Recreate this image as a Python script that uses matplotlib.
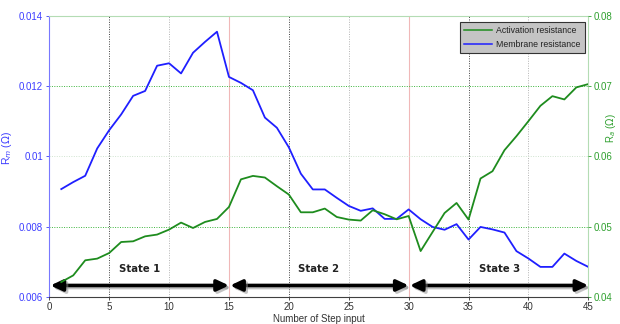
import matplotlib
matplotlib.use("Agg")
import matplotlib.pyplot as plt
import matplotlib.patheffects as pe
from matplotlib.lines import Line2D

plt.rcParams['font.family'] = ['Liberation Sans', 'DejaVu Sans']

steps = list(range(1, 46))

membrane = [0.00907, 0.00927, 0.00945, 0.01023, 0.01075, 0.0112, 0.01173, 0.01187,
            0.01259, 0.01266, 0.01237, 0.01296, 0.01327, 0.01356, 0.01227, 0.0121,
            0.01189, 0.01111, 0.01082, 0.01026, 0.00951, 0.00906, 0.00906, 0.00882,
            0.00859, 0.00845, 0.00852, 0.00822, 0.00822, 0.00849, 0.00821, 0.00799,
            0.00791, 0.00807, 0.00763, 0.00799, 0.00792, 0.00783, 0.0073, 0.00709,
            0.00685, 0.00685, 0.00723, 0.00702, 0.00685]

activation = [0.04209, 0.04304, 0.04519, 0.04543, 0.04623, 0.0478, 0.0479, 0.04861,
              0.04886, 0.04957, 0.05057, 0.0498, 0.05066, 0.05109, 0.0528, 0.05674,
              0.05723, 0.057, 0.05576, 0.05457, 0.05204, 0.05204, 0.05257, 0.05137,
              0.051, 0.05086, 0.05233, 0.05176, 0.05104, 0.05151, 0.04651, 0.04923,
              0.05194, 0.05337, 0.051, 0.05686, 0.0579, 0.0609, 0.0629, 0.06504,
              0.06723, 0.06861, 0.06814, 0.06986, 0.07033]

x_ticks = [0, 5, 10, 15, 20, 25, 30, 35, 40, 45]
rm_ticks = [0.006, 0.008, 0.01, 0.012, 0.014]
ra_ticks = [0.04, 0.05, 0.06, 0.07, 0.08]
rm_tick_labels = ['0.006', '0.008', '0.01', '0.012', '0.014']
ra_tick_labels = ['0.04', '0.05', '0.06', '0.07', '0.08']

state_names = ['State 1', 'State 2', 'State 3']
state_bounds = [(0, 15), (15, 30), (30, 45)]
state_label_x = [7.56, 22.5, 37.56]

BLUE = '#1f1fff'
GREEN = '#1e8c1e'
BLUE_TXT = '#3c3cff'
GREEN_TXT = '#2fa02f'

fig = plt.figure(figsize=(6.2, 3.24), dpi=100)
ax = fig.add_axes([0.0795, 0.0843, 0.8694, 0.8654])
ax2 = ax.twinx()

ax.set_xlim(0, 45)
ax.set_ylim(0.006, 0.014)
ax2.set_ylim(0.04, 0.08)

# vertical reference lines
for xv in (5, 20, 35):
    ax.axvline(xv, color='#404040', lw=0.7, ls=(0, (1, 1.5)), zorder=0)
for xv in (10, 25, 40):
    ax.axvline(xv, color='#b4b4b4', lw=0.7, ls=(0, (1, 1.5)), zorder=0)
for xv in (15, 30):
    ax.axvline(xv, color='#f0b8b8', lw=0.8, zorder=0)

# horizontal reference lines
for yv in (0.008, 0.012):
    ax.axhline(yv, color='#3cb43c', lw=0.7, ls=(0, (1, 1.5)), zorder=0)
ax.axhline(0.01, color='#cfe3cf', lw=0.7, ls=(0, (1, 1.5)), zorder=0)

ax.plot(steps, membrane, color=BLUE, lw=1.3, zorder=3)
ax2.plot(steps, activation, color=GREEN, lw=1.3, zorder=3)

ax.set_xticks(x_ticks)
ax.set_yticks(rm_ticks)
ax.set_yticklabels(rm_tick_labels)
ax2.set_yticks(ra_ticks)
ax2.set_yticklabels(ra_tick_labels)

ax.tick_params(axis='x', labelsize=7, colors='#333333', length=2.5, width=0.6, pad=1.5)
ax.tick_params(axis='y', labelsize=7, colors=BLUE_TXT, length=2.5, width=0.6, pad=2)
ax2.tick_params(axis='y', labelsize=7, colors=GREEN_TXT, length=2.5, width=0.6, pad=1.5)

for sp in ax2.spines.values():
    sp.set_visible(False)
ax.spines['left'].set_color('#7878ff')
ax.spines['bottom'].set_color('#404040')
ax.spines['top'].set_color('#b4dcb4')
ax.spines['right'].set_color('#b4dcb4')
for sp in ax.spines.values():
    sp.set_linewidth(0.8)

ax.set_xlabel('Number of Step input', fontsize=7, color='#333333', labelpad=1)
ax.set_ylabel(r'R$_{m}$ ($\Omega$)', fontsize=7.5, color=BLUE_TXT)
ax.yaxis.set_label_coords(-0.066, 0.53)
ax2.set_ylabel(r'R$_{a}$ ($\Omega$)', fontsize=7, color=GREEN_TXT)
ax2.yaxis.set_label_coords(1.029, 0.6)

# state arrows
arrow_y = 0.00632
shadow = [pe.SimpleLineShadow(offset=(1.5, -1.5), shadow_color='#888888', alpha=0.5),
          pe.Normal()]
for (x0, x1), name, lx in zip(state_bounds, state_names, state_label_x):
    ax.annotate('', xy=(x1, arrow_y), xytext=(x0 + 0.1, arrow_y),
                arrowprops=dict(arrowstyle='<|-|>,head_length=0.7,head_width=0.33',
                                color='black', lw=2.6, shrinkA=0, shrinkB=0,
                                path_effects=shadow),
                zorder=5)
    ax.text(lx, 0.00678, name, ha='center', va='center', fontsize=7.3,
            fontweight='bold', color='#222222',
            family=['DejaVu Sans'], zorder=5)

# legend
handles = [Line2D([], [], color=GREEN, lw=1.1), Line2D([], [], color=BLUE, lw=1.1)]
leg = ax2.legend(handles, ['Activation resistance', 'Membrane resistance'],
                 loc='upper right', bbox_to_anchor=(0.9965, 0.985), fontsize=6.3,
                 frameon=True, fancybox=False, handlelength=3.2, handletextpad=0.5,
                 borderpad=0.45, labelspacing=0.55, borderaxespad=0.2)
leg.get_frame().set_facecolor('#c4c4c4')
leg.get_frame().set_edgecolor('#333333')
leg.get_frame().set_linewidth(0.8)
leg.get_frame().set_alpha(1.0)
for t in leg.get_texts():
    t.set_color('#222222')

fig.savefig('out.png', dpi=100)
